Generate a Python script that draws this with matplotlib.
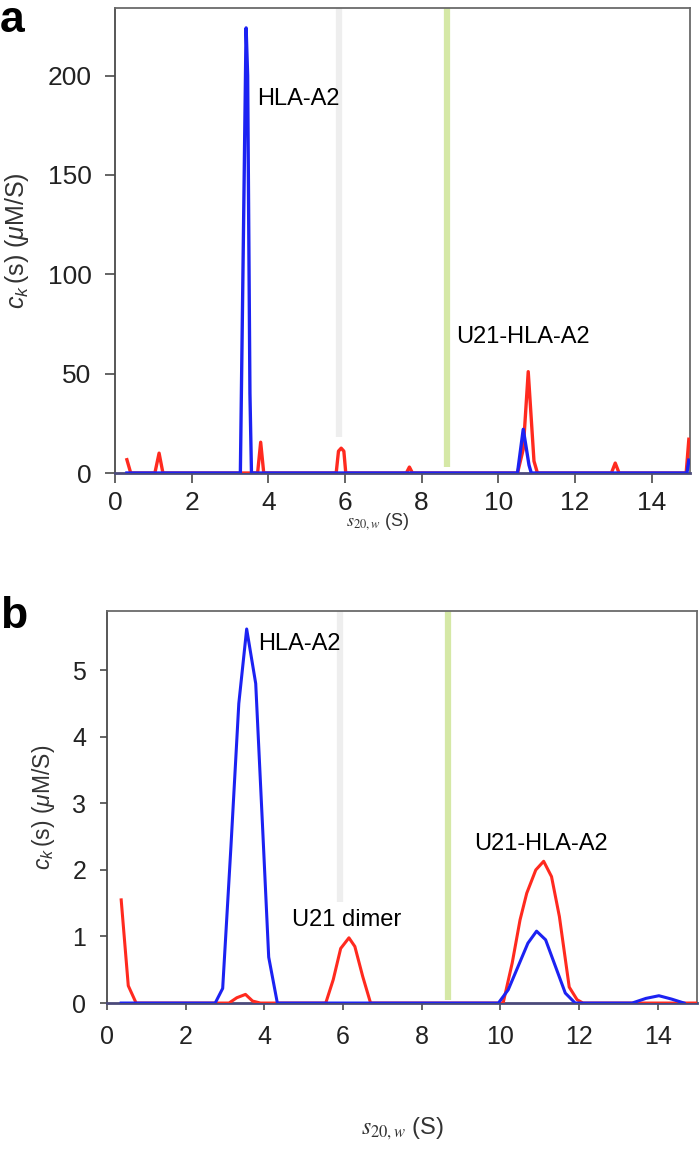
import matplotlib
matplotlib.use("Agg")
import matplotlib.pyplot as plt

plt.rcParams["font.family"] = ["Liberation Sans", "DejaVu Sans"]
plt.rcParams["mathtext.fontset"] = "custom"
plt.rcParams["mathtext.rm"] = "Liberation Sans"
plt.rcParams["mathtext.it"] = "Liberation Sans:italic"

# ---- panel a: c(k)(s) distributions, sharp peaks ----
red_a_s = [0.31, 0.41, 1.04, 1.15, 1.25, 3.72, 3.8, 3.88, 5.77, 5.83, 5.9, 5.97, 6.02,
           7.6, 7.68, 7.76, 10.5, 10.65, 10.78, 10.93, 11.02, 12.95, 13.05, 13.15,
           14.9, 14.97]
red_a_c = [6.7, 0, 0, 10, 0, 0, 15.5, 0, 0, 11, 12.5, 11, 0,
           0, 3, 0, 0, 12, 51, 6, 0, 0, 5, 0,
           0, 17]
blue_a_s = [0.31, 3.27, 3.42, 3.46, 3.52, 3.56, 10.5, 10.65, 10.8, 10.86, 14.92, 14.97]
blue_a_c = [0, 0, 224, 200, 40, 0, 0, 22, 4, 0, 0, 6.5]

# ---- panel b: broader distributions ----
red_b_s = [0.36, 0.54, 0.74, 3.1, 3.3, 3.52, 3.7, 3.9, 5.56, 5.75, 5.94, 6.15, 6.3, 6.5, 6.7,
           10.07, 10.3, 10.5, 10.67, 10.9, 11.1, 11.3, 11.5, 11.75, 11.95, 12.1, 14.97]
red_b_c = [1.55, 0.26, 0, 0, 0.08, 0.13, 0.03, 0, 0, 0.35, 0.82, 0.98, 0.85, 0.4, 0,
           0, 0.6, 1.25, 1.65, 2.0, 2.13, 1.9, 1.3, 0.24, 0.05, 0, 0]
blue_b_s = [0.36, 2.75, 2.94, 3.15, 3.35, 3.55, 3.78, 3.95, 4.11, 4.33,
            9.95, 10.2, 10.45, 10.7, 10.92, 11.15, 11.4, 11.65, 11.9,
            13.35, 13.7, 14.03, 14.35, 14.67]
blue_b_c = [0, 0, 0.22, 2.35, 4.5, 5.62, 4.8, 2.7, 0.69, 0,
            0, 0.2, 0.55, 0.9, 1.08, 0.95, 0.55, 0.15, 0,
            0, 0.07, 0.11, 0.06, 0]

# marker bands (s position, lower end)
gray_s_a, gray_lo_a = 5.84, 18
green_s_a, green_lo_a = 8.67, 3
gray_s_b, gray_lo_b = 5.92, 1.52
green_s_b, green_lo_b = 8.67, 0.05

RED = "#ff2a1f"
BLUE = "#1c22f2"
GRAY_BAND = "#eeeeee"
GREEN_BAND = "#d5e8a6"
SPINE = "#4a4a4a"

fig = plt.figure(figsize=(7, 11.52), dpi=100)
ax_a = fig.add_axes([0.1643, 0.5894, 0.8214, 0.4036])
ax_b = fig.add_axes([0.1529, 0.1293, 0.8429, 0.3403])


def style_axes(ax, ymax, yticks, tick_fs, tick_len, xpad, ypad):
    ax.set_xlim(0, 15)
    ax.set_ylim(0, ymax)
    ax.set_xticks(range(0, 15, 2))
    ax.set_yticks(yticks)
    ax.tick_params(direction="out", length=tick_len, width=1.2, color=SPINE,
                   labelsize=tick_fs, labelcolor="#222222")
    ax.tick_params(axis="x", pad=xpad)
    ax.tick_params(axis="y", pad=ypad)
    for sp in ax.spines.values():
        sp.set_color("#6a6a6a")
        sp.set_linewidth(1.3)
    ax.spines["bottom"].set_color("#4b4a7a")
    ax.spines["bottom"].set_linewidth(2)
    ax.spines["left"].set_color(SPINE)


# panel a
ax = ax_a
ax.vlines(gray_s_a, gray_lo_a, 234, color=GRAY_BAND, lw=4.5, zorder=1)
ax.vlines(green_s_a, green_lo_a, 234, color=GREEN_BAND, lw=4.5, zorder=1)
ax.plot(red_a_s, red_a_c, color=RED, lw=2.4, zorder=3)
ax.plot(blue_a_s, blue_a_c, color=BLUE, lw=2.4, zorder=4)
style_axes(ax, 234, [0, 50, 100, 150, 200], 19, 7, 6, 10)
ax.text(3.7, 188, "HLA-A2", fontsize=17, va="center", ha="left")
ax.text(8.9, 68.5, "U21-HLA-A2", fontsize=17, va="center", ha="left")
ax.set_ylabel(r"$c_k\,$(s) ($\mu$M/S)", fontsize=18, color="#333333", va="center")
ax.yaxis.set_label_coords(-0.17, 0.5)
ax.set_xlabel(r"$s_{20,w}$ (S)", fontsize=13, color="#333333", va="center")
ax.xaxis.set_label_coords(0.457, -0.105)
ax.xaxis.label.set_math_fontfamily("stix")

# panel b
ax = ax_b
ax.vlines(gray_s_b, gray_lo_b, 5.89, color=GRAY_BAND, lw=4.5, zorder=1)
ax.vlines(green_s_b, green_lo_b, 5.89, color=GREEN_BAND, lw=4.5, zorder=1)
ax.plot(red_b_s, red_b_c, color=RED, lw=2.2, zorder=3)
ax.plot(blue_b_s, blue_b_c, color=BLUE, lw=2.2, zorder=4)
style_axes(ax, 5.89, [0, 1, 2, 3, 4, 5], 18, 5, 11, 10)
ax.text(3.83, 5.4, "HLA-A2", fontsize=17, va="center", ha="left")
ax.text(4.69, 1.25, "U21 dimer", fontsize=17, va="center", ha="left")
ax.text(9.34, 2.39, "U21-HLA-A2", fontsize=17, va="center", ha="left")
ax.set_ylabel(r"$c_k\,$(s) ($\mu$M/S)", fontsize=16.5, color="#333333", va="center")
ax.yaxis.set_label_coords(-0.108, 0.5)
ax.set_xlabel(r"$s_{20,w}$ (S)", fontsize=17, color="#333333", va="center")
ax.xaxis.set_label_coords(0.5, -0.32)
ax.xaxis.label.set_math_fontfamily("stix")

# panel letters
fig.text(0.0, 1 - 21 / 1152, "a", fontsize=32, fontweight="bold", va="center", ha="left")
fig.text(0.0, 1 - 617 / 1152, "b", fontsize=32, fontweight="bold", va="center", ha="left")

fig.savefig("out.png", dpi=100)
